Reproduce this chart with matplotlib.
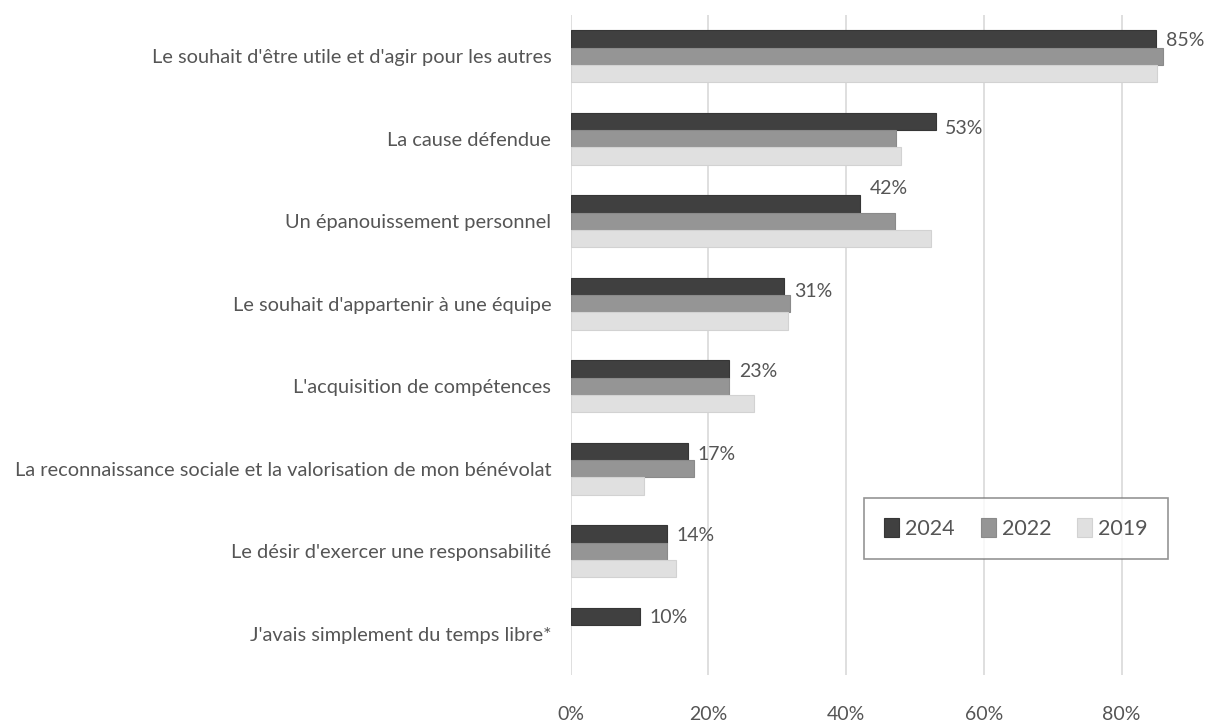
import numpy as np
import matplotlib
matplotlib.use("Agg")
import matplotlib.pyplot as plt
import matplotlib.transforms as mtransforms
from matplotlib.ticker import FuncFormatter

categories = [
    "Le souhait d'être utile et d'agir pour les autres",
    "La cause défendue",
    "Un épanouissement personnel",
    "Le souhait d'appartenir à une équipe",
    "L'acquisition de compétences",
    "La reconnaissance sociale et la valorisation de mon bénévolat",
    "Le désir d'exercer une responsabilité",
    "J'avais simplement du temps libre*",
]
series_names = ["2024", "2022", "2019"]
v2024 = [85, 53, 42, 31, 23, 17, 14, 10]
v2022 = [86, 47.3, 47.1, 31.9, 23, 17.9, 14, np.nan]
v2019 = [85.2, 48, 52.4, 31.6, 26.6, 10.7, 15.3, np.nan]
labels_2024 = ["85%", "53%", "42%", "31%", "23%", "17%", "14%", "10%"]
xticks = [0, 20, 40, 60, 80]

# style
face = ["#404040", "#959595", "#e0e0e0"]
edge = ["#363636", "#8a8a8a", "#d2d2d2"]
txt = "#555555"
label_dy = [2, 7, -15, 5, 3, 3, 2, 1]  # px vertical nudge of value labels

plt.rcParams['font.family'] = ['Lato', 'DejaVu Sans']

W, H = 1207, 727
fig = plt.figure(figsize=(W / 100, H / 100), dpi=100)
ax = fig.add_axes([570.7 / W, 1 - 675 / H, 1 - 570.7 / W, (675 - 15) / H])

y = np.arange(len(categories))
bh = 0.21
data = [v2024, v2022, v2019]
for i, (vals, name) in enumerate(zip(data, series_names)):
    ax.barh(y + (i - 1) * bh, vals, height=bh, color=face[i], edgecolor=edge[i],
            linewidth=0.8, label=name, zorder=3)

ax.set_xlim(0, (W - 570.7) / 6.885)
ax.set_ylim(len(categories) - 0.5, -0.5)
ax.set_xticks(xticks)
ax.xaxis.set_major_formatter(FuncFormatter(lambda v, p: f"{v:.0f}%"))
ax.set_yticks(y)
ax.set_yticklabels(categories)
ax.tick_params(axis='y', length=0, pad=14, labelsize=14.4, labelcolor=txt)
ax.tick_params(axis='x', length=0, pad=22, labelsize=14, labelcolor=txt)
for s in ax.spines.values():
    s.set_visible(False)
ax.grid(axis='x', color='#d9d9d9', linewidth=1.2, zorder=0)
ax.set_axisbelow(True)

for yi, v, lab, dy in zip(y, v2024, labels_2024, label_dy):
    tr = mtransforms.offset_copy(ax.transData, fig=fig, x=7, y=-dy * 0.72, units='points')
    ax.text(v, yi - bh, lab, transform=tr, ha='left', va='center', fontsize=14, color=txt)

leg = ax.legend(loc='center', bbox_to_anchor=(1016 / W, 1 - 528.5 / H),
                bbox_transform=fig.transFigure, ncol=3, fontsize=15.5, frameon=True,
                fancybox=False, edgecolor='#7a7a7a', handlelength=0.7, handleheight=0.93,
                handletextpad=0.28, columnspacing=1.2, borderpad=0.95, borderaxespad=0)
leg.get_frame().set_linewidth(1.2)
for t in leg.get_texts():
    t.set_color(txt)

fig.savefig("out.png", dpi=100)
